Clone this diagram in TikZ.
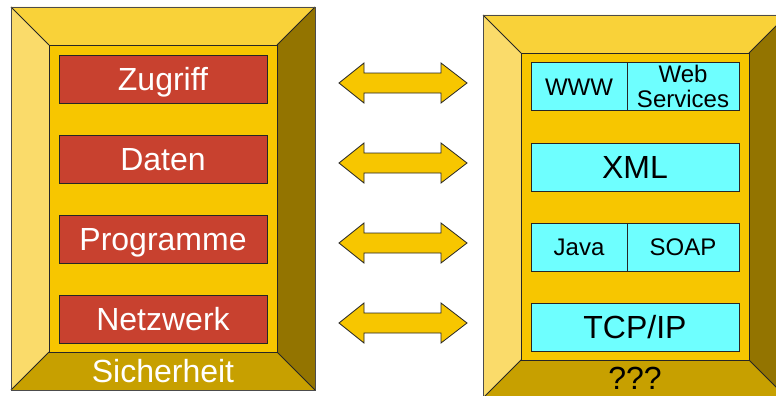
\documentclass[tikz,border=0pt]{standalone}
\usepackage{fontspec}
\setmainfont{Liberation Sans}
\usetikzlibrary{calc}

\definecolor{bevtop}{HTML}{F9D239}
\definecolor{bevleft}{HTML}{FADB6A}
\definecolor{bevright}{HTML}{937400}
\definecolor{bevbottom}{HTML}{C7A000}
\definecolor{panel}{HTML}{F7C600}
\definecolor{layerred}{HTML}{C8412F}
\definecolor{layercyan}{HTML}{6EFFFF}

\tikzset{
  edge/.style={draw=black!85, line width=0.8pt, line join=miter},
  bigtext/.style={font=\fontsize{32}{32}\selectfont, text height=22.9pt, text depth=0pt},
  smalltext/.style={font=\fontsize{24}{25}\selectfont, text height=17.2pt, text depth=0pt},
  redlayer/.style={edge, fill=layerred, text=white, minimum width=208pt,
    minimum height=48pt, inner sep=0pt, bigtext},
  cyanlayer/.style={edge, fill=layercyan, text=black, minimum height=48pt,
    inner sep=0pt, bigtext},
  cyanhalf/.style={edge, fill=layercyan, text=black, minimum height=48pt,
    inner sep=0pt, minimum width=96pt, smalltext},
  cyanhalfw/.style={edge, fill=layercyan, text=black, minimum height=48pt,
    inner sep=0pt, minimum width=112pt, font=\fontsize{24}{25}\selectfont, align=center},
  caption/.style={inner sep=0pt, bigtext},
  linkarrow/.style={edge, fill=panel}
}

% bevelled frame: outer corners (#1,#2)-(#3,#4), bevel depth #5
\newcommand\bevelframe[5]{%
  \fill[bevtop]    (#1,#2) -- (#3,#2) -- (#3-#5,#2+#5) -- (#1+#5,#2+#5) -- cycle;
  \fill[bevleft]   (#1,#2) -- (#1+#5,#2+#5) -- (#1+#5,#4-#5) -- (#1,#4) -- cycle;
  \fill[bevright]  (#3,#2) -- (#3,#4) -- (#3-#5,#4-#5) -- (#3-#5,#2+#5) -- cycle;
  \fill[bevbottom] (#1,#4) -- (#1+#5,#4-#5) -- (#3-#5,#4-#5) -- (#3,#4) -- cycle;
  \filldraw[edge, fill=panel] (#1+#5,#2+#5) rectangle (#3-#5,#4-#5);
  \draw[edge] (#1,#2) -- (#1+#5,#2+#5) (#3,#2) -- (#3-#5,#2+#5)
              (#1,#4) -- (#1+#5,#4-#5) (#3,#4) -- (#3-#5,#4-#5);
  \draw[draw=black!70, line width=0.9pt] (#1,#2) rectangle (#3,#4);
}

% double-headed link arrow centred on a named coordinate
\newcommand\linkarrow[1]{%
  \draw[linkarrow] ($(#1)+(-64,0)$) -- ++(25,-20) -- ++(0,10) -- ++(77,0)
    -- ++(0,-10) -- ++(26,20) -- ++(-26,20) -- ++(0,-10) -- ++(-77,0)
    -- ++(0,10) -- cycle;
}

\begin{document}
\begin{tikzpicture}[x=1pt,y=-1pt]
  \useasboundingbox (0,0) rectangle (776,396);
  \clip (0,0) rectangle (776,396);
  \fill[white] (0,0) rectangle (776,396);

  % left stack
  \bevelframe{11}{7}{315}{390}{38}
  \node[redlayer] (zugriff)   at (163,79)  {Zugriff};
  \node[redlayer] (daten)     at (163,159) {Daten};
  \node[redlayer] (programme) at (163,239) {Programme};
  \node[redlayer] (netzwerk)  at (163,319) {Netzwerk};
  \node[caption, text=white] (sicherheit) at (163,371) {Sicherheit};

  % right stack
  \bevelframe{483}{15}{787}{398}{38}
  \node[cyanhalf]  (www)  at (579,86.5) {WWW};
  \node[cyanhalfw] (ws)   at (683,86.5) {Web\\Services};
  \node[cyanlayer, minimum width=208pt] (xml) at (635,167) {XML};
  \node[cyanhalf]  (java) at (579,247) {Java};
  \node[cyanhalfw] (soap) at (683,247) {SOAP};
  \node[cyanlayer, minimum width=208pt] (tcpip) at (635,327) {TCP/IP};
  \node[caption, text=black] (unknown) at (635,378.5) {???};

  % links between the layers
  \coordinate (l1) at (403,83);
  \coordinate (l2) at (403,163);
  \coordinate (l3) at (403,243);
  \coordinate (l4) at (403,323);
  \linkarrow{l1}
  \linkarrow{l2}
  \linkarrow{l3}
  \linkarrow{l4}
\end{tikzpicture}
\end{document}
